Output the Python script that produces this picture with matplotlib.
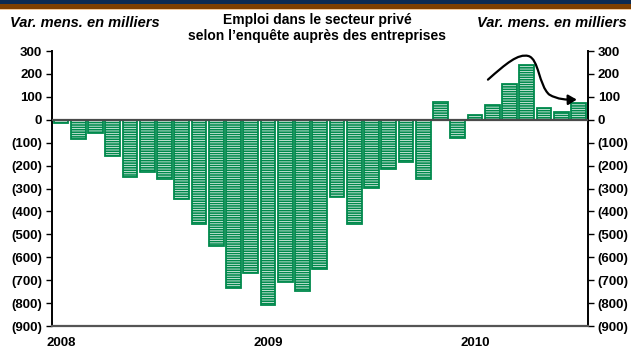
import matplotlib
matplotlib.use("Agg")
import matplotlib.pyplot as plt
from matplotlib.patches import Rectangle, FancyArrowPatch
from matplotlib.path import Path

# ---- data (monthly change, thousands) Jan 2008 .. Jul 2010 ----
values = [-12, -85, -58, -160, -251, -228, -257, -347, -455, -549, -734, -669,
          -807, -707, -747, -651, -336, -453, -296, -216, -185, -260, 76, -80,
          20, 64, 157, 240, 51, 33, 71]
year_labels = ["2008", "2009", "2010"]
year_positions = [0, 12, 24]
yticks = [300, 200, 100, 0, -100, -200, -300, -400, -500, -600, -700, -800, -900]
ytick_labels = ["300", "200", "100", "0", "(100)", "(200)", "(300)", "(400)",
                "(500)", "(600)", "(700)", "(800)", "(900)"]

GREEN = "#00894c"
plt.rcParams["font.family"] = ["Liberation Sans", "DejaVu Sans"]
plt.rcParams["hatch.color"] = GREEN
plt.rcParams["hatch.linewidth"] = 1.2

fig = plt.figure(figsize=(6.31, 3.5), dpi=100)

# header bands
fig.patches.append(Rectangle((0, 1 - 4/350), 1, 4/350, transform=fig.transFigure,
                             facecolor="#0c2a52", edgecolor="none"))
fig.patches.append(Rectangle((0, 1 - 9/350), 1, 5/350, transform=fig.transFigure,
                             facecolor="#7e3f00", edgecolor="none"))
fig.patches.append(Rectangle((0, 1 - 10/350), 1, 1/350, transform=fig.transFigure,
                             facecolor="#f2c89a", edgecolor="none"))

ax = fig.add_axes([52/631, 1 - 326/350, (588 - 52)/631, (326 - 51)/350])

x = list(range(len(values)))
ax.bar(x, values, width=0.86, facecolor="white", edgecolor=GREEN,
       linewidth=1.3, hatch="-------", zorder=2)
ax.axhline(0, color="#4a4a4a", lw=1.6, zorder=3)

ax.set_xlim(-0.52, len(values) - 0.45)
ax.set_ylim(-900, 300)

ax.set_yticks(yticks)
ax.set_yticklabels(ytick_labels, fontsize=9.5, fontweight="bold")
ax.tick_params(axis="y", direction="out", length=4, width=1, color="black",
               left=True, right=True, labelleft=True, labelright=True, pad=3)
ax.set_xticks(year_positions)
ax.set_xticklabels(year_labels, fontsize=9.5, fontweight="bold")
ax.tick_params(axis="x", length=0, pad=8)

ax.spines["top"].set_visible(False)
ax.spines["left"].set_linewidth(1.4)
ax.spines["right"].set_linewidth(1.4)
ax.spines["bottom"].set_color("#555555")
ax.spines["bottom"].set_linewidth(1.6)

# curved arrow annotation
verts = [(24.75, 175), (25.8, 245), (26.5, 290), (27.1, 278),
         (27.7, 265), (27.7, 150), (28.3, 110),
         (28.8, 88), (29.3, 87), (29.9, 88)]
codes = [Path.MOVETO] + [Path.CURVE4] * 9
arrow = FancyArrowPatch(path=Path(verts, codes), arrowstyle="-|>,head_length=5,head_width=3",
                        color="black", lw=1.6, zorder=5)
ax.add_patch(arrow)

# header texts
fig.text(10/631, 1 - 23/350, "Var. mens. en milliers", fontsize=10.5,
         fontweight="bold", fontstyle="italic", ha="left", va="center")
fig.text(627/631, 1 - 23/350, "Var. mens. en milliers", fontsize=10.5,
         fontweight="bold", fontstyle="italic", ha="right", va="center")
fig.text(317/631, 1 - 28/350,
         "Emploi dans le secteur privé\nselon l\u2019enquête auprès des entreprises",
         fontsize=10, fontweight="bold", ha="center", va="center", linespacing=1.1)

fig.savefig("out.png", dpi=100)
